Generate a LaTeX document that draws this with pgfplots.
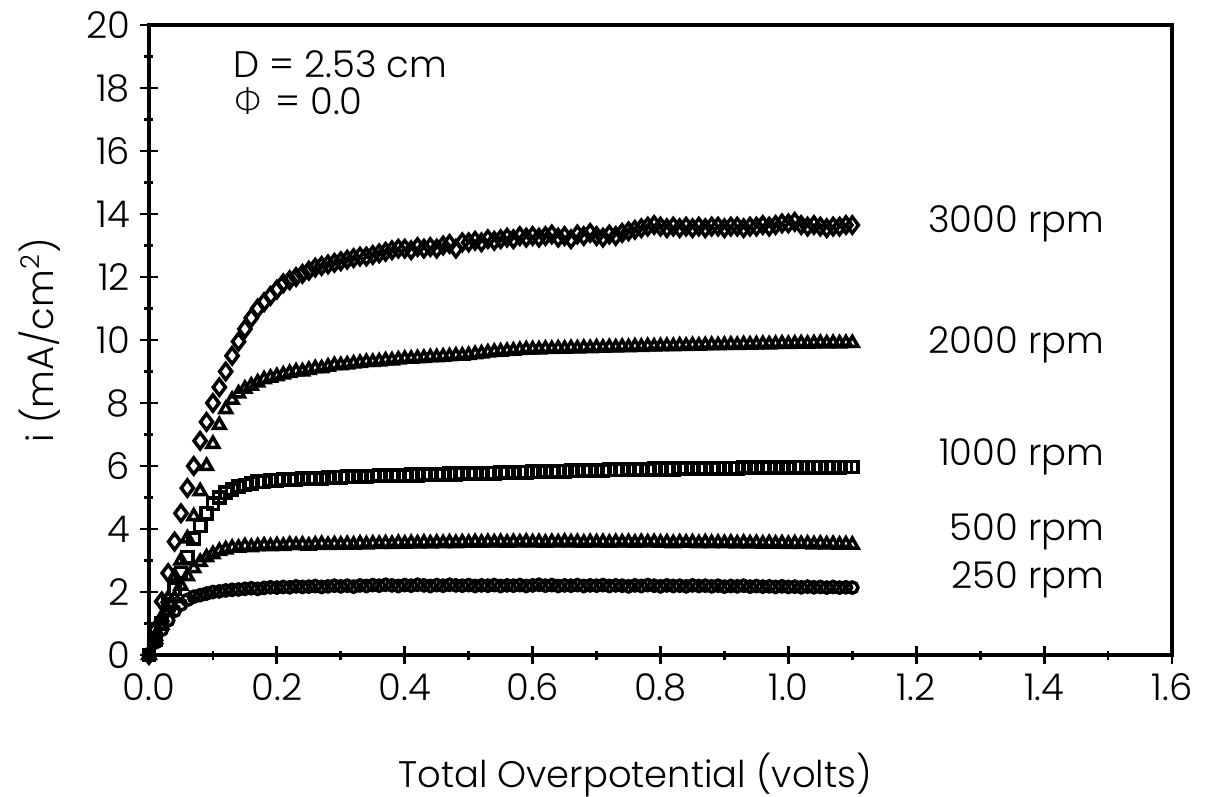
\documentclass[border=0pt]{standalone}
\usepackage{pgfplots}
\usepackage{pgfplotstable}
\pgfplotsset{compat=1.18}
\usepackage{fontspec}
\setmainfont{Poppins}[UprightFont={* Light}]
\newfontfamily\grk{DejaVu Sans ExtraLight}
\pgfplotstableread{
x     sa     sb     sc    sd    se
0.00  0.00   0.00   0.00  0.00  0.00
0.01  0.80   0.60   0.50  0.50  0.40
0.02  1.70   1.20   1.00  0.95  0.80
0.03  2.60   1.80   1.60  1.40  1.10
0.04  3.60   2.50   2.10  1.80  1.40
0.05  4.50   3.00   2.60  2.20  1.60
0.06  5.30   3.70   3.10  2.50  1.75
0.07  6.00   4.40   3.70  2.75  1.85
0.08  6.80   5.20   4.10  2.95  1.90
0.09  7.40   6.00   4.50  3.10  1.95
0.10  8.00   6.70   4.80  3.20  2.00
0.11  8.50   7.30   5.00  3.30  2.02
0.12  9.00   7.80   5.15  3.35  2.05
0.13  9.50   8.10   5.25  3.40  2.07
0.14  9.95   8.30   5.35  3.40  2.08
0.15  10.35  8.45   5.40  3.45  2.10
0.16  10.70  8.55   5.45  3.42  2.12
0.17  11.00  8.65   5.50  3.45  2.10
0.18  11.20  8.75   5.50  3.47  2.13
0.19  11.40  8.80   5.55  3.45  2.15
0.20  11.60  8.85   5.55  3.48  2.14
0.21  11.80  8.90   5.57  3.46  2.16
0.22  11.90  8.95   5.56  3.50  2.15
0.23  12.00  9.00   5.58  3.48  2.18
0.24  12.10  9.00   5.60  3.50  2.16
0.25  12.20  9.05   5.60  3.47  2.17
0.26  12.30  9.10   5.62  3.50  2.19
0.27  12.35  9.10   5.60  3.52  2.16
0.28  12.40  9.15   5.63  3.49  2.18
0.29  12.45  9.20   5.65  3.51  2.20
0.30  12.50  9.20   5.64  3.50  2.18
0.31  12.55  9.22   5.66  3.52  2.20
0.32  12.60  9.25   5.65  3.50  2.17
0.33  12.65  9.27   5.67  3.53  2.21
0.34  12.65  9.30   5.66  3.51  2.19
0.35  12.70  9.30   5.68  3.53  2.22
0.36  12.75  9.32   5.70  3.52  2.20
0.37  12.80  9.35   5.68  3.54  2.23
0.38  12.85  9.35   5.70  3.52  2.21
0.39  12.90  9.38   5.71  3.55  2.19
0.40  12.90  9.40   5.70  3.53  2.22
0.41  12.85  9.40   5.72  3.55  2.20
0.42  12.95  9.42   5.71  3.54  2.23
0.43  12.90  9.43   5.73  3.56  2.21
0.44  12.95  9.45   5.72  3.54  2.19
0.45  12.90  9.45   5.74  3.56  2.22
0.46  13.00  9.47   5.73  3.55  2.20
0.47  13.05  9.48   5.75  3.57  2.23
0.48  12.90  9.50   5.74  3.55  2.21
0.49  13.10  9.50   5.76  3.57  2.20
0.50  13.10  9.52   5.75  3.56  2.22
0.51  13.15  9.55   5.77  3.58  2.19
0.52  13.10  9.57   5.76  3.56  2.21
0.53  13.20  9.60   5.78  3.58  2.20
0.54  13.15  9.62   5.77  3.57  2.22
0.55  13.20  9.63   5.79  3.58  2.19
0.56  13.25  9.65   5.80  3.56  2.21
0.57  13.20  9.66   5.79  3.58  2.20
0.58  13.30  9.68   5.81  3.57  2.22
0.59  13.25  9.70   5.80  3.59  2.19
0.60  13.30  9.70   5.82  3.57  2.21
0.61  13.25  9.70   5.81  3.58  2.23
0.62  13.30  9.72   5.83  3.56  2.20
0.63  13.35  9.71   5.82  3.58  2.22
0.64  13.25  9.73   5.84  3.57  2.19
0.65  13.30  9.72   5.83  3.59  2.21
0.66  13.20  9.74   5.85  3.57  2.20
0.67  13.35  9.73   5.84  3.58  2.22
0.68  13.30  9.75   5.86  3.56  2.19
0.69  13.40  9.74   5.85  3.58  2.21
0.70  13.30  9.76   5.87  3.57  2.20
0.71  13.25  9.75   5.86  3.58  2.22
0.72  13.35  9.77   5.88  3.56  2.19
0.73  13.30  9.76   5.87  3.58  2.21
0.74  13.40  9.78   5.88  3.57  2.20
0.75  13.45  9.77   5.89  3.58  2.18
0.76  13.50  9.79   5.88  3.56  2.21
0.77  13.55  9.78   5.90  3.58  2.19
0.78  13.60  9.80   5.89  3.57  2.22
0.79  13.65  9.79   5.91  3.58  2.20
0.80  13.60  9.80   5.90  3.56  2.18
0.81  13.55  9.81   5.91  3.57  2.21
0.82  13.60  9.80   5.90  3.55  2.19
0.83  13.55  9.82   5.92  3.57  2.20
0.84  13.60  9.81   5.91  3.56  2.18
0.85  13.55  9.83   5.93  3.57  2.21
0.86  13.60  9.82   5.92  3.55  2.19
0.87  13.55  9.83   5.93  3.57  2.20
0.88  13.60  9.84   5.92  3.55  2.18
0.89  13.60  9.83   5.94  3.56  2.20
0.90  13.55  9.84   5.93  3.55  2.17
0.91  13.60  9.85   5.94  3.56  2.19
0.92  13.60  9.84   5.93  3.54  2.18
0.93  13.55  9.86   5.95  3.56  2.20
0.94  13.60  9.85   5.94  3.54  2.17
0.95  13.60  9.86   5.95  3.55  2.19
0.96  13.65  9.87   5.94  3.53  2.17
0.97  13.60  9.86   5.96  3.55  2.18
0.98  13.65  9.87   5.95  3.53  2.16
0.99  13.70  9.88   5.96  3.54  2.18
1.00  13.70  9.87   5.95  3.52  2.16
1.01  13.75  9.88   5.97  3.54  2.17
1.02  13.65  9.89   5.96  3.52  2.15
1.03  13.60  9.88   5.97  3.53  2.17
1.04  13.65  9.89   5.96  3.51  2.15
1.05  13.60  9.90   5.97  3.53  2.16
1.06  13.55  9.89   5.96  3.51  2.14
1.07  13.60  9.90   5.97  3.52  2.16
1.08  13.60  9.89   5.96  3.50  2.14
1.09  13.65  9.90   5.97  3.51  2.15
1.10  13.65  9.90   5.97  3.50  2.14
}\datatable
\begin{document}
\fontsize{10.5}{12}\selectfont
\begin{tikzpicture}
\useasboundingbox (-1.49,-1.41) rectangle (10.57,6.55);
\begin{axis}[
  at={(0,0)}, anchor=origin,
  scale only axis, width=10.23cm, height=6.30cm,
  xmin=0, xmax=1.6, ymin=0, ymax=20,
  xtick={0,0.2,...,1.6}, ytick={0,2,...,20},
  minor x tick num=1, minor y tick num=1,
  xtick pos=left, ytick pos=left,
  tick align=center,
  major tick length=0.18cm, minor tick length=0.09cm,
  every tick/.style={black, line width=0.8pt},
  axis line style={line width=0.9pt},
  /pgf/number format/assume math mode=true,
  xticklabel style={/pgf/number format/fixed, /pgf/number format/fixed zerofill, /pgf/number format/precision=1, yshift=0.03cm},
  yticklabel style={xshift=0.03cm},
  ticklabel style={font=\fontsize{10.5}{12}\selectfont},
  xlabel={Total Overpotential (volts)},
  xlabel style={at={(axis description cs:0.475,0)}, anchor=center, yshift=-1.2cm, font=\fontsize{10.5}{12}\selectfont},
  ylabel={i (mA/cm\textsuperscript{2})},
  ylabel style={at={([xshift=-1.09cm]axis description cs:0,0.5)}, anchor=center, font=\fontsize{10.5}{12}\selectfont},
  clip=false,
]
\addplot[only marks, mark=diamond, mark size=2.3pt, mark options={line width=1.0pt}] table[x=x, y=sa] {\datatable};
\addplot[only marks, mark=triangle, mark size=1.9pt, mark options={line width=1.0pt}] table[x=x, y=sb] {\datatable};
\addplot[only marks, mark=square, mark size=1.6pt, mark options={line width=1.0pt}] table[x=x, y=sc] {\datatable};
\addplot[only marks, mark=triangle, mark size=1.9pt, mark options={line width=1.0pt}] table[x=x, y=sd] {\datatable};
\addplot[only marks, mark=o, mark size=1.6pt, mark options={line width=1.0pt}] table[x=x, y=se] {\datatable};
\node[anchor=east, inner sep=0pt] at (axis cs:1.495,13.68) {3000 rpm};
\node[anchor=east, inner sep=0pt] at (axis cs:1.495,9.84) {2000 rpm};
\node[anchor=east, inner sep=0pt] at (axis cs:1.495,6.29) {1000 rpm};
\node[anchor=east, inner sep=0pt] at (axis cs:1.495,3.90) {500 rpm};
\node[anchor=east, inner sep=0pt] at (axis cs:1.495,2.38) {250 rpm};
\node[anchor=west, inner sep=0pt] at (axis cs:0.131,18.76) {D = 2.53 cm};
\node[anchor=west, inner sep=0pt] at (axis cs:0.131,17.59) {{\grk Φ} = 0.0};
\end{axis}
\end{tikzpicture}
\end{document}
